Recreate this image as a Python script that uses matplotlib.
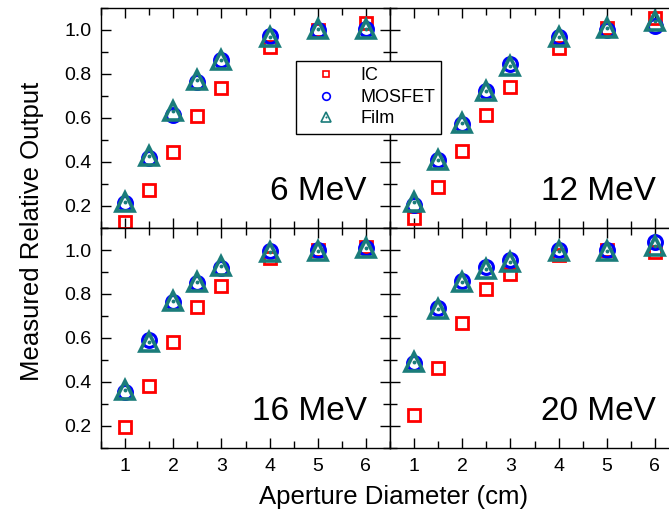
import numpy as np
import matplotlib
matplotlib.use('Agg')
import matplotlib.pyplot as plt
from matplotlib.lines import Line2D
from matplotlib.legend_handler import HandlerTuple
from matplotlib.ticker import MultipleLocator

plt.rcParams['font.family'] = ['Liberation Sans', 'DejaVu Sans']

# aperture diameters (cm)
aperture = [1, 1.5, 2, 2.5, 3, 4, 5, 6]

energies = ['6 MeV', '12 MeV', '16 MeV', '20 MeV']

ic_6 = [0.129, 0.273, 0.444, 0.610, 0.738, 0.924, 1.000, 1.030]
mosfet_6 = [0.215, 0.420, 0.615, 0.765, 0.865, 0.975, 1.000, 1.005]
film_6 = [0.220, 0.429, 0.632, 0.773, 0.864, 0.970, 1.003, 1.003]

ic_12 = [0.144, 0.288, 0.451, 0.614, 0.742, 0.917, 1.008, 1.053]
mosfet_12 = [0.205, 0.410, 0.575, 0.725, 0.845, 0.970, 1.000, 1.020]
film_12 = [0.217, 0.409, 0.579, 0.724, 0.838, 0.970, 1.008, 1.042]

ic_16 = [0.197, 0.383, 0.580, 0.739, 0.836, 0.962, 1.000, 1.015]
mosfet_16 = [0.355, 0.590, 0.765, 0.850, 0.920, 0.995, 1.000, 1.010]
film_16 = [0.364, 0.583, 0.768, 0.856, 0.929, 0.992, 0.997, 1.008]

ic_20 = [0.250, 0.462, 0.670, 0.821, 0.891, 0.977, 1.000, 0.992]
mosfet_20 = [0.485, 0.735, 0.860, 0.925, 0.955, 1.000, 1.000, 1.035]
film_20 = [0.492, 0.730, 0.853, 0.914, 0.947, 0.995, 0.997, 1.018]

ic_all = [ic_6, ic_12, ic_16, ic_20]
mosfet_all = [mosfet_6, mosfet_12, mosfet_16, mosfet_20]
film_all = [film_6, film_12, film_16, film_20]

red = '#ff0000'
blue = '#0000ff'
teal = '#1a7c7a'

fig = plt.figure(figsize=(6.69, 5.25), dpi=100)

W, H = 669.0, 525.0
# panel boxes in pixels: (left, top)
boxes = [(101, 8), (390, 8), (101, 228), (390, 228)]
pw, ph = 289, 220

axes = []
for i, (lx, ty) in enumerate(boxes):
    ax = fig.add_axes([lx / W, 1 - (ty + ph) / H, pw / W, ph / H])
    axes.append(ax)

    ax.plot(aperture, ic_all[i], ls='none', marker='s', ms=9, mfc='none',
            mec=red, mew=2.0)
    ax.plot(aperture, mosfet_all[i], ls='none', marker='o', ms=10, mfc='none',
            mec=blue, mew=2.2)
    ax.plot(aperture, film_all[i], ls='none', marker='^', ms=13.5, mfc='none',
            mec=teal, mew=2.6)
    ax.plot(aperture, film_all[i], ls='none', marker='o', ms=2.8, mfc=teal,
            mec=teal, mew=0)

    ax.set_xlim(0.5, 6.5)
    ax.set_ylim(0.1, 1.1)
    ax.xaxis.set_major_locator(MultipleLocator(1))
    ax.xaxis.set_minor_locator(MultipleLocator(0.5))
    ax.yaxis.set_major_locator(MultipleLocator(0.2))
    ax.yaxis.set_minor_locator(MultipleLocator(0.1))
    ax.tick_params(which='both', direction='in', top=True, right=True,
                   labelsize=14, pad=7, width=1.0)
    ax.tick_params(which='major', length=7)
    ax.tick_params(which='minor', length=5)
    for sp in ax.spines.values():
        sp.set_linewidth(1.0)

    if i in (1, 3):
        ax.tick_params(labelleft=False)
    if i in (0, 1):
        ax.tick_params(labelbottom=False)

    ax.text(0.92, 0.125, energies[i], transform=ax.transAxes, ha='right',
            va='baseline', fontsize=24)

fig.text(32 / W, 1 - 231 / H, 'Measured Relative Output', rotation=90,
         ha='center', va='center', fontsize=18.5)
fig.text(394 / W, 1 - 497 / H, 'Aperture Diameter (cm)', ha='center',
         va='center', fontsize=18.5)

h_ic = Line2D([], [], ls='none', marker='s', ms=5, mfc='none', mec=red, mew=1.2)
h_mos = Line2D([], [], ls='none', marker='o', ms=5.5, mfc='none', mec=blue, mew=1.2)
h_tri = Line2D([], [], ls='none', marker='^', ms=6.5, mfc='none', mec=teal, mew=1.2)
h_dot = Line2D([], [], ls='none', marker='o', ms=1.5, mfc=teal, mec=teal, mew=0)

leg = fig.legend([h_ic, h_mos, (h_tri, h_dot)], ['IC', 'MOSFET', 'Film'],
                 handler_map={tuple: HandlerTuple(ndivide=1)},
                 loc='upper left', bbox_to_anchor=(296 / W, 1 - 61 / H),
                 fontsize=13, frameon=True, fancybox=False, framealpha=1,
                 edgecolor='black', borderpad=0.35, labelspacing=0.25,
                 handlelength=2.6, handletextpad=0.6, borderaxespad=0)
leg.get_frame().set_linewidth(1.0)

fig.savefig('out.png', dpi=100)
